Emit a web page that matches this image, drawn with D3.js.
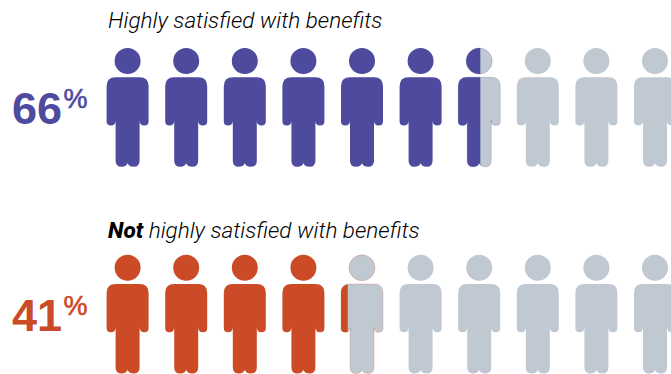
<!DOCTYPE html>
<html>
<head>
<meta charset="utf-8">
<script src="https://cdnjs.cloudflare.com/ajax/libs/d3/7.8.5/d3.min.js"></script>
<style>
html,body{margin:0;padding:0;background:#fff;overflow:hidden}
svg{display:block}
text{font-family:"Liberation Sans",Arial,sans-serif}
text.heading{font-family:Roboto,"Liberation Sans",sans-serif;font-weight:300}
</style>
</head>
<body>
<svg id="chart" width="671" height="374"></svg>
<script>
// Share of employees in each group, in percent
const groupKeys = ["high", "not"];
const groupValues = [66, 41];
const groupColors = ["#4e4a9e", "#cb4b26"];
const groupLeads = ["", "Not"];
const groupTitles = ["Highly satisfied with benefits", " highly satisfied with benefits"];
const peopleIndex = [0, 1, 2, 3, 4, 5, 6, 7, 8, 9];
const restColor = "#c0c8d2";

const svg = d3.select("#chart");

// One icon stands for ten percent
const xPerson = d3.scaleLinear().domain([0, 9]).range([127.6, 655]);
const yRow = d3.scaleLinear().domain([0, 1]).range([0, 206.8]);
// Where the colour boundary falls across a partly filled icon
const partial = d3.scaleLinear().domain([0, 1]).range([-17.3, 13.4]);

// Person icon, origin on the body centre line
function personPath() {
  const p = d3.path();
  p.moveTo(13, 61);
  p.arc(0, 61, 13, 0, Math.PI * 2);
  p.closePath();
  const top = 77.2, hw = 21, r = 9, arm = 125.4, leg = 12, foot = 166.8;
  p.moveTo(-hw + r, top);
  p.lineTo(hw - r, top);
  p.quadraticCurveTo(hw, top, hw, top + r);
  p.lineTo(hw, arm - 4);
  p.quadraticCurveTo(hw, arm, hw - 4.3, arm);
  p.quadraticCurveTo(leg, arm, leg, arm - 5);
  p.lineTo(leg, foot - 6);
  p.quadraticCurveTo(leg, foot, 6, foot);
  p.quadraticCurveTo(1.5, foot, 0, foot - 3.5);
  p.quadraticCurveTo(-1.5, foot, -6, foot);
  p.quadraticCurveTo(-leg, foot, -leg, foot - 6);
  p.lineTo(-leg, arm - 5);
  p.quadraticCurveTo(-leg, arm, -hw + 4.3, arm);
  p.quadraticCurveTo(-hw, arm, -hw, arm - 4);
  p.lineTo(-hw, top + r);
  p.quadraticCurveTo(-hw, top, -hw + r, top);
  p.closePath();
  return p.toString();
}
const iconD = personPath();

groupKeys.forEach((key, g) => {
  const row = svg.append("g").attr("transform", `translate(0,${yRow(g)})`);
  const value = groupValues[g];
  const color = groupColors[g];
  const filled = value / 10;

  // Heading above the row
  const title = row.append("text").attr("class", "heading")
    .attr("x", 108).attr("y", 28 + g * 3.2)
    .attr("font-size", 22.55).attr("font-style", "italic").attr("fill", "#000");
  if (groupLeads[g]) title.append("tspan").style("font-weight", 800).text(groupLeads[g]);
  title.append("tspan").style("white-space", "pre").text(groupTitles[g]);

  // Large percentage and its raised sign
  row.append("text").attr("x", 12).attr("y", 124)
    .attr("font-size", 45).attr("font-weight", "bold").attr("fill", color).text(value);
  row.append("text").attr("x", 63.5).attr("y", 108)
    .attr("font-size", 27).attr("fill", color)
    .attr("stroke", color).attr("stroke-width", 0.6).text("%");

  // Row of icons: full, part-filled and empty
  peopleIndex.forEach(i => {
    const cx = xPerson(i);
    const icon = row.append("g").attr("transform", `translate(${cx},0)`);
    if (i < Math.floor(filled)) {
      icon.append("path").attr("d", iconD).attr("fill", color);
    } else if (i === Math.floor(filled)) {
      const clipId = `clip-${key}`;
      icon.append("clipPath").attr("id", clipId)
        .append("rect").attr("x", -30).attr("y", 40)
        .attr("width", 30 + partial(filled - i)).attr("height", 140);
      icon.append("path").attr("d", iconD).attr("fill", restColor)
        .attr("stroke", color).attr("stroke-opacity", 0.4).attr("stroke-width", 0.6);
      icon.append("path").attr("d", iconD).attr("fill", color)
        .attr("clip-path", `url(#${clipId})`);
    } else {
      icon.append("path").attr("d", iconD).attr("fill", restColor);
    }
  });
});
</script>
</body>
</html>
